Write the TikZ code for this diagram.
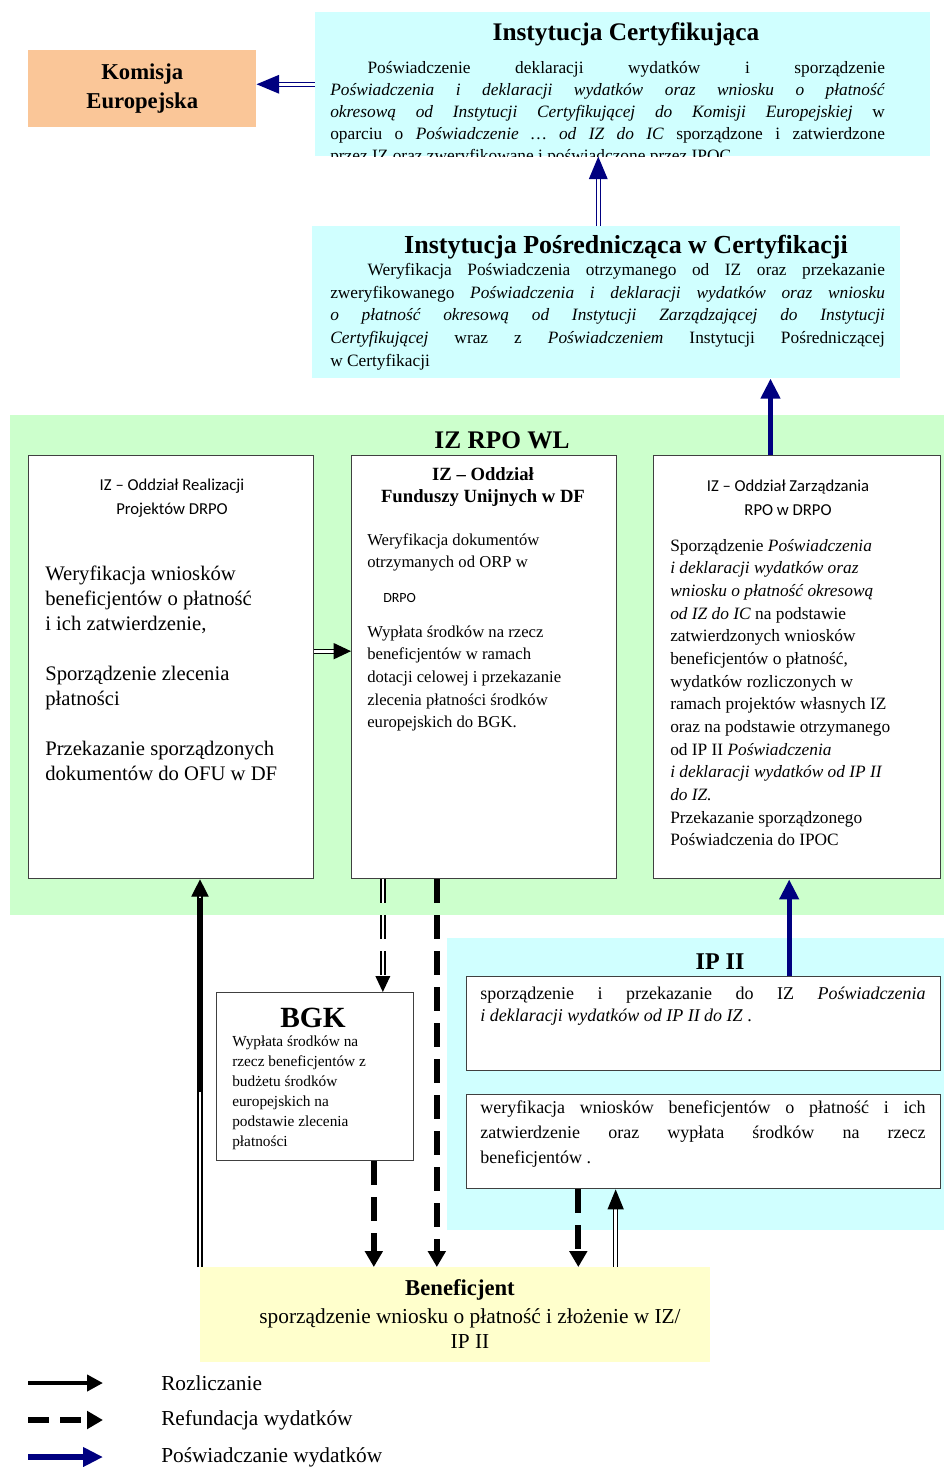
\documentclass[tikz,border=0pt]{standalone}
\usepackage{fontspec}
\setmainfont{Liberation Serif}
\newfontfamily\calib{Carlito}
\usetikzlibrary{arrows.meta}

\definecolor{cyanbg}{RGB}{208,255,255}
\definecolor{greenbg}{RGB}{204,255,204}
\definecolor{yellowbg}{RGB}{255,255,204}
\definecolor{orangebg}{RGB}{250,198,152}
\definecolor{navy}{RGB}{0,0,128}

\tikzset{
  whitebox/.style={draw=black!75, line width=1pt, fill=white, inner sep=0pt},
  rozl/.style={line width=3pt, -{Triangle[length=12pt,width=12pt]}},
  refund/.style={line width=4.5pt, dash pattern=on 18pt off 9pt, -{Triangle[length=12pt,width=13pt]}},
  poswiad/.style={draw=navy, line width=4pt, -{Triangle[length=15pt,width=14pt]}},
  dbl/.style={double, double distance=2pt, line width=1pt, -{Triangle[length=12pt,width=11pt]}},
  bluedbl/.style={draw=navy, double, double distance=2pt, line width=1pt, -{Triangle[length=17pt,width=14pt]}},
}

\begin{document}
\begin{tikzpicture}[x=0.75pt,y=0.75pt,yscale=-1,xscale=1]
\useasboundingbox (0,0) rectangle (944,1467);

% Shapes: background regions
\draw (10,415) node [anchor=north west, fill=greenbg, minimum width=700.5pt, minimum height=375pt, inner sep=0pt] (izrpo) {};
\draw (447,938) node [anchor=north west, fill=cyanbg, minimum width=372.75pt, minimum height=219pt, inner sep=0pt] (ipreg) {};

% Shapes: boxes
\draw (28,50) node [anchor=north west, fill=orangebg, minimum width=171pt, minimum height=57.75pt, inner sep=0pt] (kom) {};
\draw (315,12) node [anchor=north west, fill=cyanbg, minimum width=461.25pt, minimum height=108pt, inner sep=0pt] (ic) {};
\draw (312,226) node [anchor=north west, fill=cyanbg, minimum width=441pt, minimum height=114pt, inner sep=0pt] (ipc) {};
\draw (28,455) node [anchor=north west, whitebox, minimum width=213.75pt, minimum height=317.25pt] (orp) {};
\draw (351,455) node [anchor=north west, whitebox, minimum width=198.75pt, minimum height=317.25pt] (ofu) {};
\draw (653,455) node [anchor=north west, whitebox, minimum width=215.25pt, minimum height=317.25pt] (oz) {};
\draw (466,976) node [anchor=north west, whitebox, minimum width=355.5pt, minimum height=70.5pt] (ipa) {};
\draw (466,1094) node [anchor=north west, whitebox, minimum width=355.5pt, minimum height=70.5pt] (ipb) {};
\draw (216,992) node [anchor=north west, whitebox, minimum width=147.75pt, minimum height=126pt] (bgk) {};
\draw (200,1267) node [anchor=north west, fill=yellowbg, minimum width=382.5pt, minimum height=71.25pt, inner sep=0pt] (benef) {};

% Text Node
\draw (kom.center) node [align=center, font=\fontsize{17}{21.75}\selectfont\bfseries] (komtxt) {Komisja\\Europejska};
% Text Node
\draw (626,34) node [inner sep=0.75pt, font=\fontsize{19}{22}\selectfont\bfseries] (ictitle) {Instytucja Certyfikująca};
\begin{scope}
\clip (ic.north west) rectangle (ic.south east);
% Text Node
\draw (330,61) node [anchor=north west, inner sep=0pt, text width=416pt, align=justify, font=\fontsize{13}{16.5}\selectfont] (icbody) {\hspace*{28pt}Poświadczenie deklaracji wydatków i sporządzenie \linebreak \textit{Poświadczenia i deklaracji wydatków oraz wniosku o płatność} \linebreak \textit{okresową od Instytucji Certyfikującej do Komisji Europejskiej} w \linebreak oparciu o \textit{Poświadczenie \ldots\ od IZ do IC} sporządzone i zatwierdzone \linebreak przez IZ oraz zweryfikowane i poświadczone przez IPOC.};
\end{scope}
% Text Node
\draw (626,247) node [inner sep=0.75pt, font=\fontsize{19.5}{22}\selectfont\bfseries] (ipctitle) {Instytucja Pośrednicząca w Certyfikacji};
% Text Node
\draw (330,263) node [anchor=north west, inner sep=0pt, text width=416pt, align=justify, font=\fontsize{13}{17}\selectfont] (ipcbody) {\hspace*{28pt}Weryfikacja Poświadczenia otrzymanego od IZ oraz przekazanie \linebreak zweryfikowanego \textit{Poświadczenia i deklaracji wydatków oraz wniosku} \linebreak \textit{o płatność okresową od Instytucji Zarządzającej do Instytucji} \linebreak \textit{Certyfikującej} wraz z \textit{Poświadczeniem} Instytucji Pośredniczącej \linebreak w Certyfikacji};

% Text Node
\draw (502,440) node [inner sep=0.75pt, font=\fontsize{19}{22}\selectfont\bfseries] (izrpotitle) {IZ RPO WL};
% Text Node
\draw (172,498) node [align=center, inner sep=0.75pt, font=\calib\fontsize{12.5}{18}\selectfont] (orptitle) {IZ – Oddział Realizacji\\Projektów DRPO};
% Text Node
\draw (45,566) node [anchor=north west, align=left, inner sep=0pt, font=\fontsize{15.5}{18.75}\selectfont] (orpbody) {Weryfikacja wniosków\\beneficjentów o płatność\\i ich zatwierdzenie,\\[18.75pt]Sporządzenie zlecenia\\płatności\\[18.75pt]Przekazanie sporządzonych\\dokumentów do OFU w DF};
% Text Node
\draw (483,487) node [align=center, inner sep=0.75pt, font=\fontsize{14}{16.5}\selectfont\bfseries] (ofutitle) {IZ – Oddział\\Funduszy Unijnych w DF};
% Text Node
\draw (367,533) node [anchor=north west, align=left, inner sep=0pt, font=\fontsize{12.5}{17}\selectfont] (ofubody) {Weryfikacja dokumentów\\otrzymanych od ORP w\\[9pt]\hspace*{12pt}{\calib\fontsize{10.5}{12}\selectfont DRPO}\\[9pt]Wypłata środków na rzecz\\beneficjentów w ramach\\dotacji celowej i przekazanie\\zlecenia płatności środków\\europejskich do BGK.};
% Text Node
\draw (788,498) node [align=center, inner sep=0.75pt, font=\calib\fontsize{12.5}{18}\selectfont] (oztitle) {IZ – Oddział Zarządzania\\RPO w DRPO};
% Text Node
\draw (670,539) node [anchor=north west, align=left, inner sep=0pt, font=\fontsize{13}{17}\selectfont] (ozbody) {Sporządzenie \textit{Poświadczenia}\\\textit{i deklaracji wydatków oraz}\\\textit{wniosku o płatność okresową}\\\textit{od IZ do IC} na podstawie\\zatwierdzonych wniosków\\beneficjentów o płatność,\\wydatków rozliczonych w\\ramach projektów własnych IZ\\oraz na podstawie otrzymanego\\od IP II \textit{Poświadczenia}\\\textit{i deklaracji wydatków od IP II}\\\textit{do IZ.}\\Przekazanie sporządzonego\\Poświadczenia do IPOC};

% Text Node
\draw (720,962) node [inner sep=0.75pt, font=\fontsize{18}{21}\selectfont\bfseries] (iptitle) {IP II};
% Text Node
\draw (480,987) node [anchor=north west, inner sep=0pt, text width=334pt, align=justify, font=\fontsize{13.5}{16.5}\selectfont] (ipabody) {sporządzenie i przekazanie do IZ \textit{Poświadczenia} \linebreak \textit{i deklaracji wydatków od IP II do IZ} .};
% Text Node
\draw (480,1101) node [anchor=north west, inner sep=0pt, text width=334pt, align=justify, font=\fontsize{13.5}{18.75}\selectfont] (ipbbody) {weryfikacja wniosków beneficjentów o płatność i ich \linebreak zatwierdzenie oraz wypłata środków na rzecz \linebreak beneficjentów .};
% Text Node
\draw (313,1018) node [inner sep=0.75pt, font=\fontsize{22}{24}\selectfont\bfseries] (bgktitle) {BGK};
% Text Node
\draw (232,1036) node [anchor=north west, align=left, inner sep=0pt, font=\fontsize{11.5}{15}\selectfont] (bgkbody) {Wypłata środków na\\rzecz beneficjentów z\\budżetu środków\\europejskich na\\podstawie zlecenia\\płatności};
% Text Node
\draw (460,1290) node [inner sep=0.75pt, font=\fontsize{17}{20}\selectfont\bfseries] (beneftitle) {Beneficjent};
% Text Node
\draw (470,1329) node [align=center, inner sep=0.75pt, font=\fontsize{16}{18.75}\selectfont] (benefbody) {sporządzenie wniosku o płatność i złożenie w IZ/\\IP II};

% Arrows: Poświadczanie
\draw [bluedbl] (ic.west) -- (ic.west -| kom.east);
\draw [bluedbl] ([xshift=-6pt]ipc.north) -- ([xshift=-6pt]ipc.north |- ic.south);
\draw [poswiad] ([xshift=-20pt]oz.north) -- ([xshift=-20pt]oz.north |- ipc.south);
\draw [poswiad] ([xshift=-6pt]oz.south |- ipa.north) -- ([xshift=-6pt]oz.south);

% Arrows: Rozliczanie
\draw [dbl, -{Triangle[length=13pt,width=12pt]}] ([yshift=-12pt]orp.east) -- ([yshift=-12pt]orp.east -| ofu.west);
\coordinate (orpup) at (200,1092);
\draw [dbl, -{Triangle[length=13pt,width=13pt]}] (benef.north west) -- (benef.north west |- orp.south);
\draw [line width=4.5pt] (orpup) -- ([yshift=14pt]benef.north west |- orp.south);
\draw [dbl, -{Triangle[length=15pt,width=12pt]}] ([xshift=-66pt]ipb.south |- benef.north) -- ([xshift=-66pt]ipb.south);

% Arrows: Refundacja
\draw [dbl, dash pattern=on 18pt off 9pt] ([xshift=-76pt]ofu.south) -- ([xshift=-76pt]ofu.south |- bgk.north);
\draw [refund] ([xshift=-35.5pt]ofu.south) -- ([xshift=-35.5pt]ofu.south |- benef.north);
\draw [refund] ([xshift=44pt]bgk.south) -- ([xshift=44pt]bgk.south |- benef.north);
\draw [refund] ([xshift=-94pt]ipb.south) -- ([xshift=-94pt]ipb.south |- benef.north);

% Legend
\coordinate (lega) at (28,1383);
\coordinate (legb) at (103,1383);
\coordinate (legc) at (28,1420);
\coordinate (legd) at (103,1420);
\coordinate (lege) at (28,1457);
\coordinate (legf) at (103,1457);
\draw [rozl] (lega) -- (legb);
\draw [refund, dash pattern=on 16pt off 8pt] (legc) -- (legd);
\draw [poswiad] (lege) -- (legf);
% Text Node
\draw (160,1383) node [anchor=west, inner sep=0.75pt, font=\fontsize{16}{18}\selectfont] (legrozl) {Rozliczanie};
% Text Node
\draw (160,1420) node [anchor=west, inner sep=0.75pt, font=\fontsize{16}{18}\selectfont] (legref) {Refundacja wydatków};
% Text Node
\draw (160,1457) node [anchor=west, inner sep=0.75pt, font=\fontsize{16}{18}\selectfont] (legpos) {Poświadczanie wydatków};

\end{tikzpicture}
\end{document}
